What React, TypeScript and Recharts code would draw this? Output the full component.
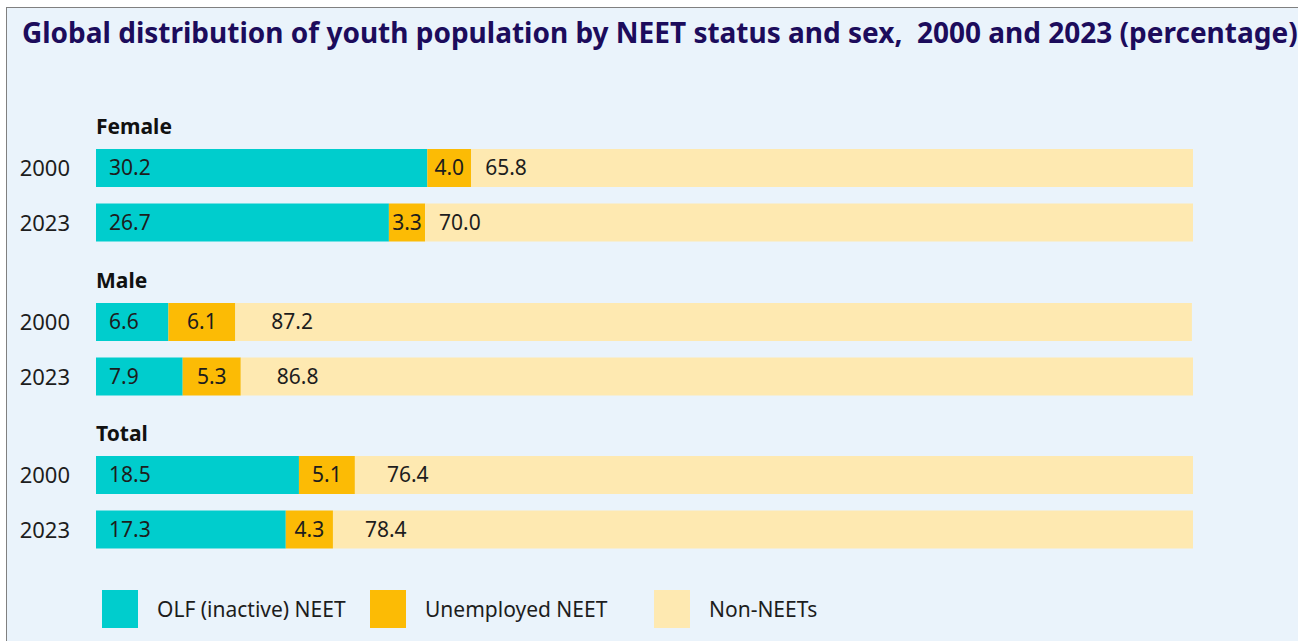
import { BarChart, Bar, XAxis, YAxis, LabelList } from 'recharts';

const groups = ['Female', 'Male', 'Total'];
const years = ['2000', '2023'];
// values per group, in year order
const olfNeet = [[30.2, 26.7], [6.6, 7.9], [18.5, 17.3]];
const unemployedNeet = [[4.0, 3.3], [6.1, 5.3], [5.1, 4.3]];
const nonNeet = [[65.8, 70.0], [87.2, 86.8], [76.4, 78.4]];

const seriesNames = ['OLF (inactive) NEET', 'Unemployed NEET', 'Non-NEETs'];
const seriesKeys = ['olf', 'unemployed', 'non'];

const COLORS = ['#00cdcd', '#fcbb05', '#fee9b1'];
const FONT = '"Noto Sans", "Open Sans", sans-serif';
const TEXT = '#1d1d1d';
// how far the Non-NEET label sits from the start of its segment, per group
const nonLabelOffset = [14, 36, 32];

const fmt = (v: any) => Number(v).toFixed(1);

function GroupChart({ gi }: { gi: number }) {
  const data = years.map((y, i) => ({
    year: y,
    olf: olfNeet[gi][i],
    unemployed: unemployedNeet[gi][i],
    non: nonNeet[gi][i],
  }));
  const labelStyle = { fontSize: 21, fill: TEXT, fontFamily: FONT };
  return (
    <BarChart
      width={1298}
      height={109}
      data={data}
      layout="vertical"
      margin={{ top: 0, right: 105, bottom: 0, left: 0 }}
      barCategoryGap={0}
    >
      <XAxis type="number" domain={[0, 100]} hide />
      <YAxis
        type="category"
        dataKey="year"
        width={96}
        axisLine={false}
        tickLine={false}
        tickMargin={20}
        tick={{ fontSize: 22, fill: TEXT, fontFamily: FONT }}
      />
      <Bar dataKey="olf" stackId="a" fill={COLORS[0]} barSize={38} isAnimationActive={false}>
        <LabelList dataKey="olf" position="insideLeft" offset={13} formatter={fmt} style={labelStyle} />
      </Bar>
      <Bar dataKey="unemployed" stackId="a" fill={COLORS[1]} barSize={38} isAnimationActive={false}>
        <LabelList dataKey="unemployed" position="center" formatter={fmt} style={labelStyle} />
      </Bar>
      <Bar dataKey="non" stackId="a" fill={COLORS[2]} barSize={38} isAnimationActive={false}>
        <LabelList dataKey="non" position="insideLeft" offset={nonLabelOffset[gi]} formatter={fmt} style={labelStyle} />
      </Bar>
    </BarChart>
  );
}

export default function App() {
  const legendWidths = [268, 284, 200];
  return (
    <div style={{ position: 'absolute', left: 0, top: 0, width: 1298, height: 641, background: '#fff', overflow: 'hidden', fontFamily: FONT }}>
      <div
        style={{
          position: 'absolute', left: 6, top: 7, width: 1300, height: 640,
          background: '#eaf3fb', borderTop: '1.5px solid #808080', borderLeft: '1.5px solid #808080',
        }}
      />
      <div
        style={{
          position: 'absolute', left: 22, top: 13, lineHeight: '38px', fontSize: 28, fontWeight: 700,
          color: '#1c0c5c', whiteSpace: 'pre',
        }}
      >
        Global distribution of youth population by NEET status and sex,  2000 and 2023 (percentage)
      </div>

      {groups.map((g, gi) => {
        const top = 96 + gi * 153.5;
        return (
          <div key={g} style={{ position: 'absolute', left: 0, top, width: 1298, height: 154 }}>
            <div style={{ position: 'absolute', left: 96, top: 17, lineHeight: '26px', fontSize: 21, fontWeight: 700, color: '#111' }}>
              {g}
            </div>
            <div style={{ position: 'absolute', left: 0, top: 45 }}>
              <GroupChart gi={gi} />
            </div>
          </div>
        );
      })}

      <div style={{ position: 'absolute', left: 102, top: 590, display: 'flex', alignItems: 'center' }}>
        {seriesKeys.map((k, i) => (
          <div key={k} style={{ width: legendWidths[i], display: 'flex', alignItems: 'center' }}>
            <div style={{ width: 36, height: 38, background: COLORS[i], marginRight: 19 }} />
            <span style={{ fontSize: 21, color: TEXT }}>{seriesNames[i]}</span>
          </div>
        ))}
      </div>
    </div>
  );
}
